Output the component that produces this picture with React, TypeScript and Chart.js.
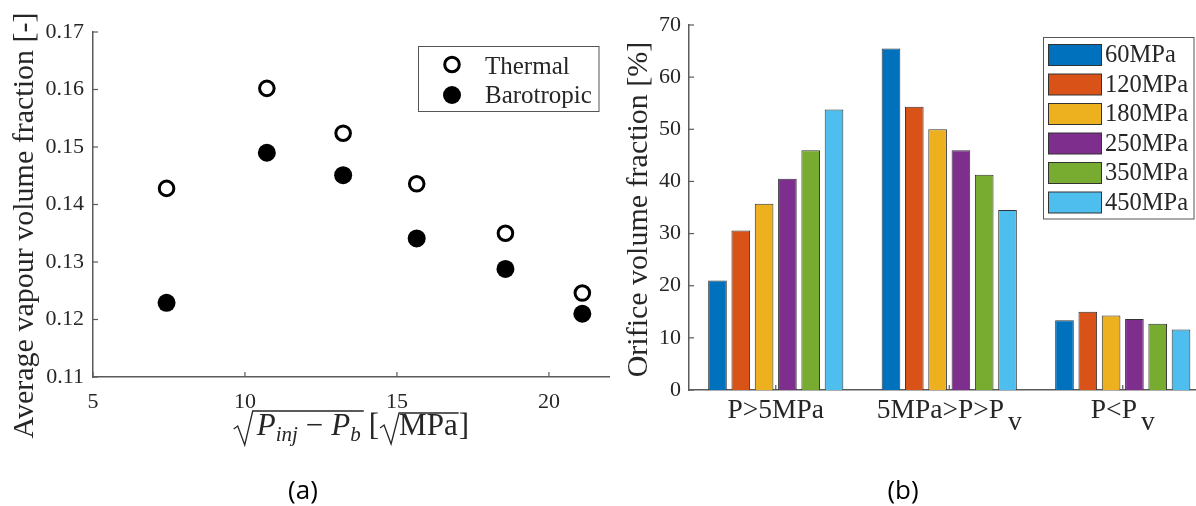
import React, { useEffect, useRef } from "react";
import { Chart, registerables } from "chart.js";

Chart.register(...registerables);

// ---------- data: panel (a) ----------
const sqrtDeltaP = [7.42, 10.72, 13.23, 15.65, 18.57, 21.1];
const thermalFraction = [0.1428, 0.1602, 0.1524, 0.1436, 0.135, 0.1246];
const barotropicFraction = [0.1229, 0.149, 0.1451, 0.1341, 0.1288, 0.121];
const leftXTicks = [5, 10, 15, 20];
const leftYTicks = [0.11, 0.12, 0.13, 0.14, 0.15, 0.16, 0.17];
const scatterLabels = ["Thermal", "Barotropic"];

// ---------- data: panel (b) ----------
const regionMain = ["P>5MPa", "5MPa>P>P", "P<P"];
const regionSub = ["", "v", "v"];
const regionCategories = ["P>5MPa", "5MPa>P>Pv", "P<Pv"];
const pressureLabels = ["60MPa", "120MPa", "180MPa", "250MPa", "350MPa", "450MPa"];
const vf60 = [21.0, 65.5, 13.4];
const vf120 = [30.6, 54.3, 15.0];
const vf180 = [35.7, 50.0, 14.3];
const vf250 = [40.5, 46.0, 13.6];
const vf350 = [46.0, 41.3, 12.7];
const vf450 = [53.8, 34.5, 11.6];
const rightYTicks = [0, 10, 20, 30, 40, 50, 60, 70];
const barColors = ["#0072BD", "#D95319", "#EDB120", "#7E2F8E", "#77AC30", "#4DBEEE"];

const SERIF = '"Liberation Serif", "Times New Roman", serif';
const TEXT = "#262626";
const AXIS = "#5a5a5a";

function radical(ctx: CanvasRenderingContext2D, x: number, base: number, top: number, end: number) {
  ctx.beginPath();
  ctx.moveTo(x, base - 6);
  ctx.lineTo(x + 4, base - 9);
  ctx.lineTo(x + 11, base + 10);
  ctx.lineTo(x + 19, top);
  ctx.lineTo(end, top);
  ctx.stroke();
}

function drawXTitleA(ctx: CanvasRenderingContext2D, cx: number, B: number) {
  const mainI = `italic 31px ${SERIF}`;
  const subI = `italic 21px ${SERIF}`;
  const main = `31px ${SERIF}`;
  const layout = (x0: number, draw: boolean) => {
    let x = x0 + 23;
    const put = (t: string, f: string, dy: number) => {
      ctx.font = f;
      if (draw) ctx.fillText(t, x, B + dy);
      x += ctx.measureText(t).width;
    };
    put("P", mainI, 0);
    put("inj", subI, 6);
    x += 8;
    put("\u2212", main, 0);
    x += 8;
    put("P", mainI, 0);
    put("b", subI, 6);
    const end1 = x + 3;
    if (draw) radical(ctx, x0, B, B - 24, end1);
    x = end1 + 5;
    put("[", main, 0);
    const r2 = x + 1;
    x = r2 + 19;
    put("MPa", main, 0);
    if (draw) radical(ctx, r2, B - 1, B - 22, x + 1);
    x += 1;
    put("]", main, 0);
    return x - x0;
  };
  const w = layout(0, false);
  ctx.save();
  ctx.fillStyle = TEXT;
  ctx.strokeStyle = TEXT;
  ctx.lineWidth = 1.3;
  ctx.textBaseline = "alphabetic";
  ctx.textAlign = "left";
  layout(cx - w / 2, true);
  ctx.restore();
}

const leftDecor = {
  id: "leftDecor",
  beforeDatasetsDraw(chart: any) {
    const { ctx, chartArea, scales } = chart;
    ctx.save();
    ctx.strokeStyle = AXIS;
    ctx.lineWidth = 1.2;
    leftYTicks.forEach((v) => {
      const y = scales.y.getPixelForValue(v);
      ctx.beginPath();
      ctx.moveTo(chartArea.left, y);
      ctx.lineTo(chartArea.left + 5, y);
      ctx.stroke();
    });
    leftXTicks.forEach((v) => {
      const x = scales.x.getPixelForValue(v);
      ctx.beginPath();
      ctx.moveTo(x, chartArea.bottom);
      ctx.lineTo(x, chartArea.bottom - 5);
      ctx.stroke();
    });
    ctx.restore();
  },
  afterDraw(chart: any) {
    const { ctx, chartArea } = chart;
    // y title
    ctx.save();
    ctx.fillStyle = TEXT;
    ctx.font = `30px ${SERIF}`;
    ctx.translate(33, 225.5);
    ctx.rotate(-Math.PI / 2);
    ctx.textAlign = "center";
    ctx.textBaseline = "alphabetic";
    ctx.fillText("Average vapour volume fraction [-]", 0, 0);
    ctx.restore();
    // x title
    drawXTitleA(ctx, (chartArea.left + chartArea.right) / 2, 435);
    // legend
    ctx.save();
    ctx.strokeStyle = "#555";
    ctx.lineWidth = 1;
    ctx.fillStyle = "#fff";
    ctx.fillRect(418.5, 46.5, 180.5, 65);
    ctx.strokeRect(418.5, 46.5, 180.5, 65);
    ctx.beginPath();
    ctx.arc(452, 64.5, 7.3, 0, Math.PI * 2);
    ctx.fillStyle = "#fff";
    ctx.fill();
    ctx.lineWidth = 3;
    ctx.strokeStyle = "#000";
    ctx.stroke();
    ctx.beginPath();
    ctx.arc(452, 95, 9, 0, Math.PI * 2);
    ctx.fillStyle = "#000";
    ctx.fill();
    ctx.fillStyle = TEXT;
    ctx.font = `25px ${SERIF}`;
    ctx.textBaseline = "alphabetic";
    ctx.fillText(scatterLabels[0], 485, 73.5);
    ctx.fillText(scatterLabels[1], 485, 103);
    // caption
    ctx.fillStyle = "#000";
    ctx.font = '26px "Open Sans", "Liberation Sans", sans-serif';
    ctx.textAlign = "center";
    ctx.textBaseline = "middle";
    ctx.fillText("(a)", 303, 492);
    ctx.restore();
  },
};

const rightDecor = {
  id: "rightDecor",
  beforeDatasetsDraw(chart: any) {
    const { ctx, chartArea, scales } = chart;
    ctx.save();
    ctx.strokeStyle = AXIS;
    ctx.lineWidth = 1.2;
    rightYTicks.forEach((v) => {
      const y = scales.y.getPixelForValue(v);
      ctx.beginPath();
      ctx.moveTo(chartArea.left, y);
      ctx.lineTo(chartArea.left + 5, y);
      ctx.stroke();
    });
    regionCategories.forEach((_, i) => {
      const x = scales.x.getPixelForValue(i);
      ctx.beginPath();
      ctx.moveTo(x, chartArea.bottom);
      ctx.lineTo(x, chartArea.bottom - 5);
      ctx.stroke();
    });
    ctx.restore();
  },
  afterDraw(chart: any) {
    const { ctx, scales } = chart;
    ctx.save();
    // category labels with subscript
    ctx.fillStyle = TEXT;
    ctx.font = `27.5px ${SERIF}`;
    ctx.textBaseline = "alphabetic";
    ctx.textAlign = "left";
    regionMain.forEach((t, i) => {
      const x = scales.x.getPixelForValue(i);
      const wm = ctx.measureText(t).width;
      const sub = regionSub[i];
      const ws = sub ? ctx.measureText(sub).width + 4 : 0;
      const sx = x - (wm + ws) / 2;
      ctx.fillText(t, sx, 418);
      if (sub) ctx.fillText(sub, sx + wm + 4, 430);
    });
    // y title
    ctx.save();
    ctx.font = `30px ${SERIF}`;
    ctx.translate(47, 209.5);
    ctx.rotate(-Math.PI / 2);
    ctx.textAlign = "center";
    ctx.fillText("Orifice volume fraction [%]", 0, 0);
    ctx.restore();
    // legend
    ctx.fillStyle = "#fff";
    ctx.fillRect(443.5, 37.5, 150.5, 181.5);
    ctx.strokeStyle = "#555";
    ctx.lineWidth = 1;
    ctx.strokeRect(443.5, 37.5, 150.5, 181.5);
    ctx.font = `24.5px ${SERIF}`;
    pressureLabels.forEach((lab, i) => {
      const cy = 55 + 29.5 * i;
      ctx.fillStyle = barColors[i];
      ctx.fillRect(448.5, cy - 10.5, 53, 21);
      ctx.strokeStyle = "#333";
      ctx.strokeRect(448.5, cy - 10.5, 53, 21);
      ctx.fillStyle = TEXT;
      ctx.fillText(lab, 505, cy + 7);
    });
    // caption
    ctx.fillStyle = "#000";
    ctx.font = '26px "Open Sans", "Liberation Sans", sans-serif';
    ctx.textAlign = "center";
    ctx.textBaseline = "middle";
    ctx.fillText("(b)", 303, 492);
    ctx.restore();
  },
};

export default function App() {
  const leftRef = useRef<HTMLCanvasElement>(null);
  const rightRef = useRef<HTMLCanvasElement>(null);

  useEffect(() => {
    const tickFont = { family: SERIF, size: 22 };
    const left = new Chart(leftRef.current as HTMLCanvasElement, {
      type: "scatter",
      data: {
        datasets: [
          {
            label: scatterLabels[0],
            data: sqrtDeltaP.map((x, i) => ({ x, y: thermalFraction[i] })),
            pointRadius: 7.3,
            pointBorderWidth: 3,
            pointBackgroundColor: "#fff",
            pointBorderColor: "#000",
            backgroundColor: "#fff",
            borderColor: "#000",
          },
          {
            label: scatterLabels[1],
            data: sqrtDeltaP.map((x, i) => ({ x, y: barotropicFraction[i] })),
            pointRadius: 9,
            pointBorderWidth: 0,
            pointBackgroundColor: "#000",
            pointBorderColor: "#000",
            backgroundColor: "#000",
            borderColor: "#000",
          },
        ],
      },
      options: {
        animation: false,
        responsive: false,
        devicePixelRatio: 1,
        layout: { padding: { left: 0, top: 32, right: 10, bottom: 0 } },
        plugins: { legend: { display: false }, tooltip: { enabled: false } },
        scales: {
          x: {
            type: "linear",
            min: 5,
            max: 22,
            afterBuildTicks: (s: any) => {
              s.ticks = leftXTicks.map((v) => ({ value: v }));
            },
            afterFit: (s: any) => {
              s.height = 129;
            },
            grid: { display: false, drawTicks: false },
            border: { display: true, color: AXIS, width: 1.5 },
            ticks: { font: tickFont, color: TEXT, padding: 12, maxRotation: 0 },
          },
          y: {
            type: "linear",
            min: 0.11,
            max: 0.17,
            afterBuildTicks: (s: any) => {
              s.ticks = leftYTicks.map((v) => ({ value: v }));
            },
            afterFit: (s: any) => {
              s.width = 93;
            },
            grid: { display: false, drawTicks: false },
            border: { display: true, color: AXIS, width: 1.5 },
            ticks: {
              font: tickFont,
              color: TEXT,
              padding: 9,
              callback: (v: any) => Number(v).toFixed(2),
            },
          },
        },
      },
      plugins: [leftDecor],
    } as any);

    const series = [vf60, vf120, vf180, vf250, vf350, vf450];
    const right = new Chart(rightRef.current as HTMLCanvasElement, {
      type: "bar",
      data: {
        labels: regionCategories,
        datasets: series.map((d, i) => ({
          label: pressureLabels[i],
          data: d,
          backgroundColor: barColors[i],
          borderColor: "#333",
          borderWidth: 1,
          categoryPercentage: 0.806,
          barPercentage: 0.8,
        })),
      },
      options: {
        animation: false,
        responsive: false,
        devicePixelRatio: 1,
        layout: { padding: { left: 0, top: 25, right: 10.5, bottom: 0 } },
        plugins: { legend: { display: false }, tooltip: { enabled: false } },
        scales: {
          x: {
            type: "category",
            offset: true,
            afterFit: (s: any) => {
              s.height = 116;
            },
            grid: { display: false, drawTicks: false },
            border: { display: true, color: AXIS, width: 1.5 },
            ticks: { display: false },
          },
          y: {
            type: "linear",
            min: 0,
            max: 70,
            afterBuildTicks: (s: any) => {
              s.ticks = rightYTicks.map((v) => ({ value: v }));
            },
            afterFit: (s: any) => {
              s.width = 89;
            },
            grid: { display: false, drawTicks: false },
            border: { display: true, color: AXIS, width: 1.5 },
            ticks: { font: tickFont, color: TEXT, padding: 8 },
          },
        },
      },
      plugins: [rightDecor],
    } as any);

    return () => {
      left.destroy();
      right.destroy();
    };
  }, []);

  return (
    <div
      style={{
        position: "fixed",
        left: 0,
        top: 0,
        width: 1196,
        height: 506,
        overflow: "hidden",
        background: "#fff",
      }}
    >
      <canvas
        ref={leftRef}
        width={620}
        height={506}
        style={{ position: "absolute", left: 0, top: 0, width: 620, height: 506 }}
      />
      <canvas
        ref={rightRef}
        width={620}
        height={506}
        style={{ position: "absolute", left: 600, top: 0, width: 620, height: 506 }}
      />
    </div>
  );
}
